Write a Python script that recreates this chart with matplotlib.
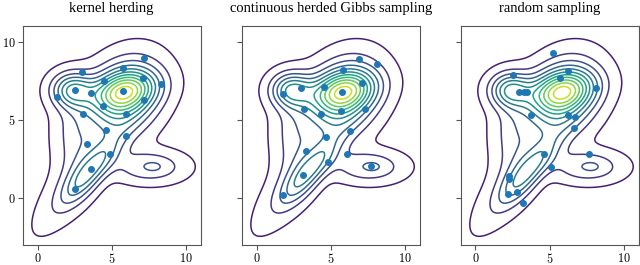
import numpy as np
import matplotlib.pyplot as plt

plt.rcParams['mathtext.fontset'] = 'cm'

titles = ["kernel herding", "continuous herded Gibbs sampling", "random sampling"]

# samples
herding_x = [7.20, 5.78, 2.99, 4.46, 7.09, 8.33, 2.52, 5.78, 3.62, 1.30,
             7.18, 4.43, 3.06, 5.97, 4.59, 5.97, 3.35, 4.86, 3.58, 2.50]
herding_y = [8.95, 8.29, 8.08, 7.50, 7.65, 7.26, 6.88, 6.81, 6.71, 6.43,
             6.26, 5.87, 5.40, 5.36, 4.36, 3.97, 3.48, 2.80, 1.83, 0.58]

gibbs_x = [6.91, 8.15, 5.83, 3.02, 4.55, 7.09, 5.77, 1.76, 3.20, 7.30,
           5.70, 4.35, 6.28, 4.66, 3.31, 6.10, 4.84, 7.72, 3.15, 1.76]
gibbs_y = [8.91, 8.57, 8.16, 7.05, 7.11, 7.33, 6.79, 6.62, 5.70, 5.66,
           5.53, 5.38, 4.27, 3.87, 3.01, 2.80, 2.33, 2.05, 1.47, 0.19]

random_x = [5.21, 6.27, 2.54, 5.71, 8.15, 2.96, 3.30, 3.47, 3.71, 6.27,
            6.72, 6.67, 7.68, 4.63, 5.08, 2.29, 2.27, 2.81, 2.16, 3.23]
random_y = [9.29, 8.12, 7.88, 7.67, 7.01, 6.79, 6.77, 6.77, 5.30, 5.32,
            5.19, 4.46, 2.84, 2.78, 1.96, 1.43, 1.24, 0.36, 0.23, -0.32]

samples = [(herding_x, herding_y), (gibbs_x, gibbs_y), (random_x, random_y)]

# target density: sum of gaussian bumps (height, centre, sd along/across, angle)
bump_h = [0.45, 0.55, 0.44, 0.21, 0.21, 0.12, 0.03, 0.21, 0.14]
bump_mx = [5.85, 5.8, 2.35, 2.91, 4.39, 2.6, 7.9, 7.6, 2.5]
bump_my = [6.85, 6.4, 6.9, 0.96, 2.60, 1.2, 2.0, 2.0, 4.0]
bump_s1 = [1.5, 1.8, 0.95, 1.4, 1.4, 2.8, 0.4, 1.6, 2.0]
bump_s2 = [0.8, 1.4, 0.75, 0.6, 0.6, 0.9, 0.22, 0.7, 1.0]
bump_ang = [10, 45, 0, 48, 48, 52, 0, 0, 90]


def density(X, Y):
    Z = np.zeros_like(X)
    for h, mx, my, s1, s2, a in zip(bump_h, bump_mx, bump_my,
                                    bump_s1, bump_s2, bump_ang):
        t = np.deg2rad(a)
        dx, dy = X - mx, Y - my
        u = dx*np.cos(t) + dy*np.sin(t)
        v = -dx*np.sin(t) + dy*np.cos(t)
        Z += h * np.exp(-0.5*((u/s1)**2 + (v/s2)**2))
    return Z


X, Y = np.meshgrid(np.linspace(-1, 11, 400), np.linspace(-3, 11, 400))
Z = density(X, Y)
levels = np.linspace(0.035, 0.935, 11) * Z.max()
line_colors = plt.cm.viridis(np.linspace(1/12, 11/12, 11))

fig = plt.figure(figsize=(6.4, 2.65), dpi=100)
lefts = [0.0355, 0.3777, 0.7198]
for i, (left, title, (px, py)) in enumerate(zip(lefts, titles, samples)):
    ax = fig.add_axes([left, 0.076, 0.278, 0.826])
    ax.contour(X, Y, Z, levels=levels, colors=line_colors, linewidths=1.1)
    ax.scatter(px, py, s=16, color='#1f77b4', zorder=3)
    ax.set_xlim(-1, 11)
    ax.set_ylim(-3, 11)
    ax.set_xticks([0, 5, 10])
    ax.set_yticks([0, 5, 10])
    ax.set_xticklabels(['$0$', '$5$', '$10$'], fontsize=8.8)
    if i == 0:
        ax.set_yticklabels(['$0$', '$5$', '$10$'], fontsize=8.8)
    else:
        ax.set_yticklabels([])
    ax.tick_params(direction='out', length=3.5, width=0.8, color='#555555', pad=1.5)
    for sp in ax.spines.values():
        sp.set_color('#555555')
        sp.set_linewidth(0.8)
    ax.set_title(title, family='Liberation Serif', fontsize=10.5, pad=10)

fig.savefig('out.png', dpi=100)
